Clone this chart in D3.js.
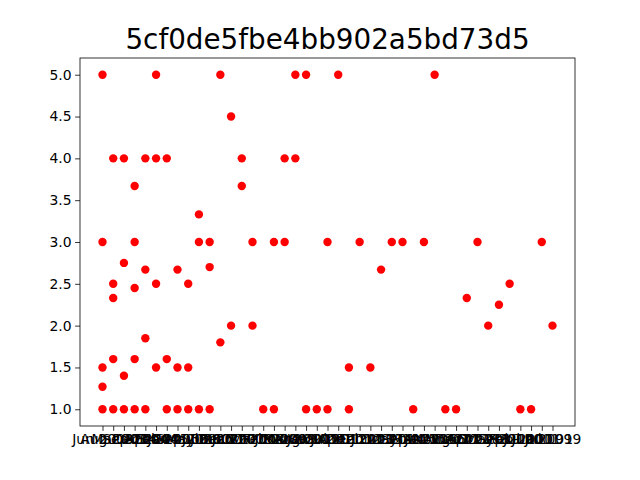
<!DOCTYPE html>
<html>
<head>
<meta charset="utf-8">
<script src="https://cdn.jsdelivr.net/npm/d3@7"></script>
<style>
  body { margin: 0; background: #fff; }
  svg { font-family: "DejaVu Sans", sans-serif; }
</style>
</head>
<body>
<svg id="chart" width="640" height="480"></svg>
<script>
// category labels (overlapping in the original, best guesses)
const categories = [
  'Jun 2003', 'Aug 2003', 'Mar 2004', 'Sep 2004', 'Dec 2004', 'Apr 2005', 'Feb 2005',
  'Jan 2006', 'Sep 2006', 'May 2006', 'Jul 2007', 'Jun 2007', 'Dec 2007', 'Jan 2008',
  'Oct 2008', 'Mar 2008', 'Feb 2009', 'Jun 2009', 'Mar 2010', 'Aug 2010', 'Jan 2011',
  'Nov 2011', 'Jul 2012', 'Apr 2012', 'Dec 2013', 'Feb 2013', 'Jun 2014', 'Oct 2014',
  'May 2015', 'Sep 2015', 'Mar 2016', 'Jan 2016', 'Nov 2017', 'Aug 2017', 'Dec 2018',
  'Apr 2018', 'Oct 2019', 'May 2019', 'Sep 2000', 'Feb 2000', 'Jul 2001', 'Jun 2001',
  'Jul 1999'
];
// y values per category
const values = [
  [5.0, 3.0, 1.5, 1.27, 1.0],
  [4.0, 2.5, 2.33, 1.6, 1.0],
  [4.0, 2.75, 1.4, 1.0],
  [3.67, 3.0, 2.45, 1.6, 1.0],
  [4.0, 2.67, 1.85, 1.0],
  [5.0, 4.0, 2.5, 1.5],
  [4.0, 1.6, 1.0],
  [2.67, 1.5, 1.0],
  [2.5, 1.5, 1.0],
  [3.33, 3.0, 1.0],
  [3.0, 2.7, 1.0],
  [5.0, 1.8],
  [4.5, 2.0],
  [4.0, 3.67],
  [3.0, 2.0],
  [1.0],
  [3.0, 1.0],
  [4.0, 3.0],
  [5.0, 4.0],
  [5.0, 1.0],
  [1.0],
  [3.0, 1.0],
  [5.0],
  [1.5, 1.0],
  [3.0],
  [1.5],
  [2.67],
  [3.0],
  [3.0],
  [1.0],
  [3.0],
  [5.0],
  [1.0],
  [1.0],
  [2.33],
  [3.0],
  [2.0],
  [2.25],
  [2.5],
  [1.0],
  [1.0],
  [3.0],
  [2.0]
];
const yTicks = [1.0, 1.5, 2.0, 2.5, 3.0, 3.5, 4.0, 4.5, 5.0];
const title = '5cf0de5fbe4bb902a5bd73d5';

const svg = d3.select('#chart');
const m = { left: 80, right: 575, top: 58, bottom: 426 };
const n = categories.length;
const pad = (n - 1) * 0.05;

const x = d3.scaleLinear().domain([-pad, n - 1 + pad]).range([m.left, m.right]);
const y = d3.scaleLinear().domain([0.8, 5.2]).range([m.bottom, m.top]);

const points = [];
values.forEach((vs, i) => vs.forEach(v => points.push({ i, v })));

svg.append('g').selectAll('circle')
  .data(points)
  .enter().append('circle')
  .attr('cx', d => x(d.i))
  .attr('cy', d => y(d.v))
  .attr('r', 4.2)
  .attr('fill', '#ff0000');

const xAxis = svg.append('g')
  .attr('transform', `translate(0,${m.bottom})`)
  .call(d3.axisBottom(x)
    .tickValues(d3.range(n))
    .tickFormat(i => categories[i])
    .tickSize(4.9)
    .tickPadding(3.5));

const yAxis = svg.append('g')
  .attr('transform', `translate(${m.left},0)`)
  .call(d3.axisLeft(y)
    .tickValues(yTicks)
    .tickFormat(d3.format('.1f'))
    .tickSize(4.9)
    .tickPadding(3.5));

[xAxis, yAxis].forEach(a => {
  a.select('.domain').remove();
  a.selectAll('text').attr('font-size', '13.9px').attr('fill', '#000')
    .attr('font-family', '"DejaVu Sans", sans-serif');
  a.selectAll('line').attr('stroke', '#000').attr('stroke-width', 0.8);
});

svg.append('rect')
  .attr('x', m.left).attr('y', m.top)
  .attr('width', m.right - m.left).attr('height', m.bottom - m.top)
  .attr('fill', 'none').attr('stroke', '#000').attr('stroke-width', 0.8);

svg.append('text')
  .attr('x', (m.left + m.right) / 2).attr('y', 49)
  .attr('text-anchor', 'middle')
  .attr('font-size', '27.8px')
  .attr('fill', '#000')
  .text(title);
</script>
</body>
</html>
